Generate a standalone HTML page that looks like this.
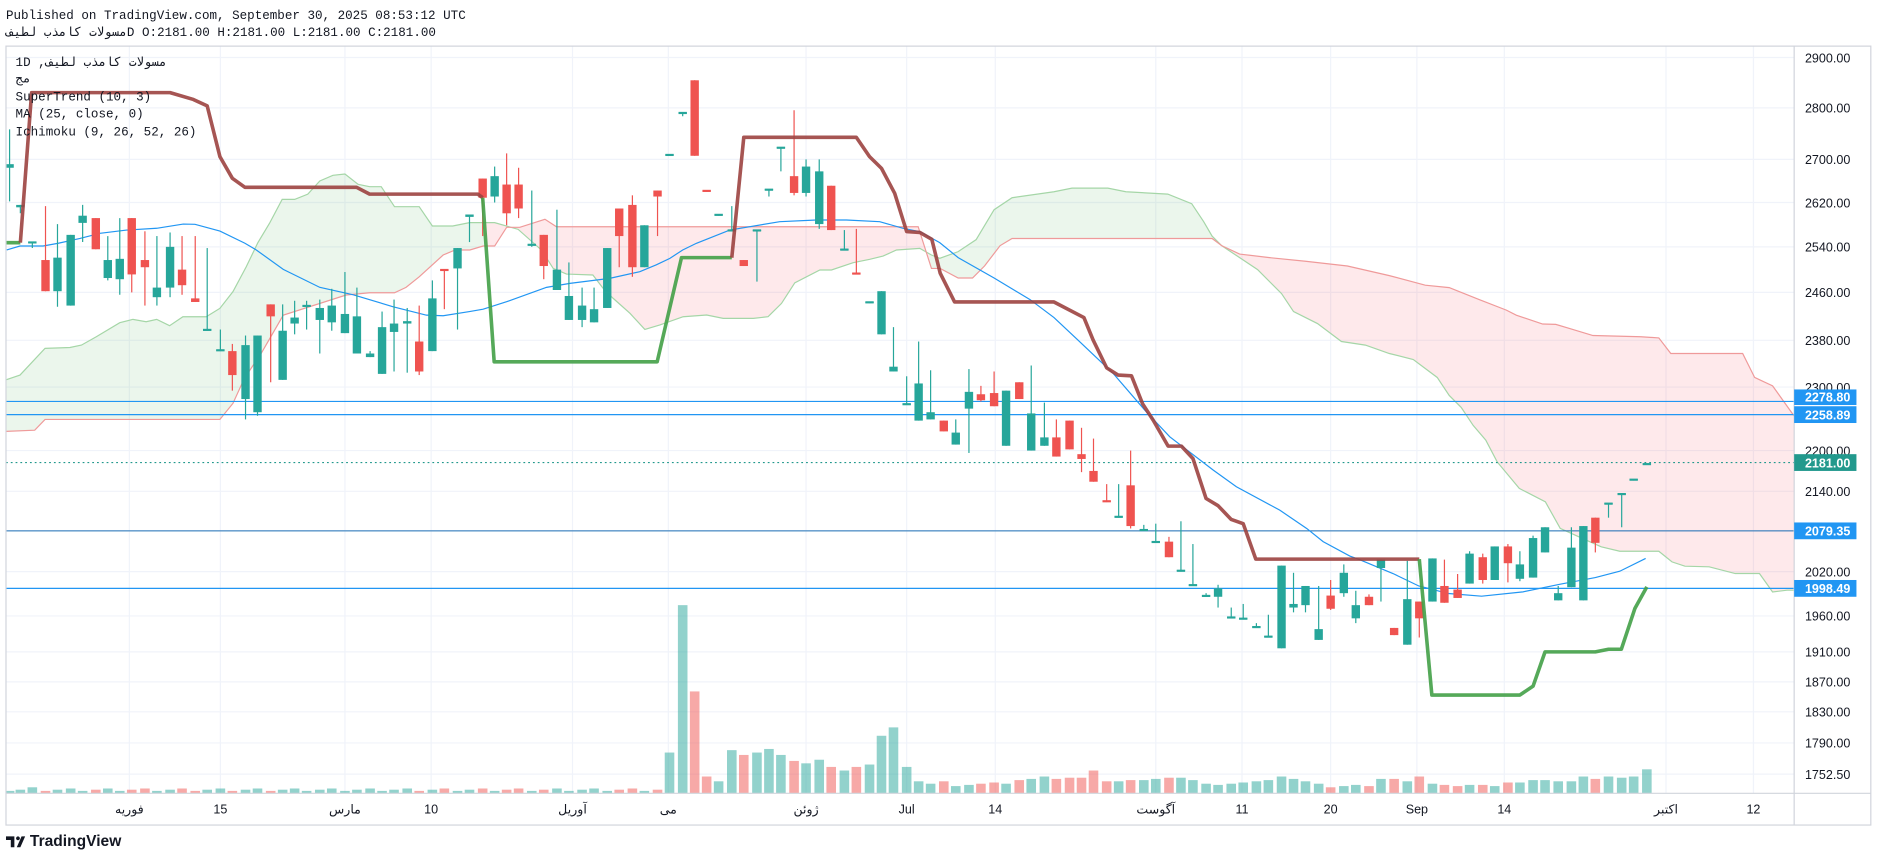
<!DOCTYPE html>
<html><head><meta charset="utf-8">
<style>
html,body{margin:0;padding:0;background:#fff;width:1878px;height:858px;overflow:hidden}
svg{display:block}
.m{font-family:"Liberation Mono","Noto Sans CJK SC",monospace;font-size:10.5px;fill:#131722}
.ax{font-family:"Liberation Sans","Noto Sans CJK SC",sans-serif;font-size:10.5px;fill:#131722}
.lb{font-family:"Liberation Sans",sans-serif;font-size:10.5px;fill:#fff;font-weight:bold}
</style></head><body>
<svg id="s" width="1878" height="858" viewBox="0 0 1568 716" preserveAspectRatio="none" xmlns="http://www.w3.org/2000/svg">
<rect x="0" y="0" width="1568" height="716" fill="#fff"/>
<text class="m" x="5" y="16">Published on TradingView.com, September 30, 2025 08:53:12 UTC</text>
<text class="m" x="5" y="30"><tspan>مسولات کامذب لطیف</tspan>D O:2181.00 H:2181.00 L:2181.00 C:2181.00</text>
<g id="grid" stroke="#f0f3fa" stroke-width="1"></g>
<defs>
<clipPath id="cg"><rect x="0" y="0" width="405" height="700"/><rect x="776" y="0" width="236" height="700"/></clipPath>
<clipPath id="cr"><rect x="405" y="0" width="371" height="700"/><rect x="1012" y="0" width="486" height="700"/></clipPath>
<clipPath id="plot"><rect x="5" y="38" width="1493" height="624"/></clipPath>
</defs>
<g id="main" clip-path="url(#plot)"></g>
<rect x="5" y="38.5" width="1557" height="650" fill="none" stroke="#d1d4dc" stroke-width="1"/>
<line x1="1498" y1="38" x2="1498" y2="688" stroke="#d1d4dc"/>
<line x1="5" y1="662" x2="1562" y2="662" stroke="#d1d4dc"/>
<g id="ticks"></g>
<text class="m" x="13" y="55">1D ,<tspan>مسولات کامذب لطیف</tspan></text>
<text class="m" x="13" y="69">مج</text>
<text class="m" x="13" y="84">SuperTrend (10, 3)</text>
<text class="m" x="13" y="98">MA (25, close, 0)</text>
<text class="m" x="13" y="113">Ichimoku (9, 26, 52, 26)</text>
<g id="tl" class="ax" text-anchor="middle">
<text x="108" y="679">فوریه</text><text x="184" y="679">15</text><text x="288" y="679">مارس</text><text x="360" y="679">10</text>
<text x="478" y="679">آوریل</text><text x="558" y="679">می</text><text x="673" y="679">ژوئن</text><text x="757" y="679">Jul</text>
<text x="831" y="679">14</text><text x="965" y="679">آگوست</text><text x="1037" y="679">11</text><text x="1111" y="679">20</text>
<text x="1183" y="679">Sep</text><text x="1256" y="679">14</text><text x="1391" y="679">اکتبر</text><text x="1464" y="679">12</text>
</g>
<g class="ax">
<text x="1507" y="52">2900.00</text><text x="1507" y="94">2800.00</text><text x="1507" y="137">2700.00</text>
<text x="1507" y="173">2620.00</text><text x="1507" y="210">2540.00</text><text x="1507" y="248">2460.00</text>
<text x="1507" y="288">2380.00</text><text x="1507" y="327">2300.00</text><text x="1507" y="380">2200.00</text>
<text x="1507" y="414">2140.00</text><text x="1507" y="481">2020.00</text><text x="1507" y="518">1960.00</text>
<text x="1507" y="548">1910.00</text><text x="1507" y="573">1870.00</text><text x="1507" y="598">1830.00</text>
<text x="1507" y="624">1790.00</text><text x="1507" y="650">1752.50</text>
</g>
<rect x="1498" y="325" width="52" height="13" fill="#2196f3"/><text class="lb" x="1507" y="335">2278.80</text>
<rect x="1498" y="339" width="52" height="14" fill="#2196f3"/><text class="lb" x="1507" y="350">2258.89</text>
<rect x="1498" y="379" width="52" height="14" fill="#22998d"/><text class="lb" x="1507" y="390">2181.00</text>
<rect x="1498" y="436" width="52" height="14" fill="#2196f3"/><text class="lb" x="1507" y="447">2079.35</text>
<rect x="1498" y="484" width="52" height="14" fill="#2196f3"/><text class="lb" x="1507" y="495">1998.49</text>
<g transform="translate(5,694)">
<path d="M0 4h7v9h-3v-6h-4z M9 13l4-9h3l-4 9z M10 4a1.6 1.6 0 1 0 0.01 0" fill="#131722"/>
<text x="20" y="12" style="font-family:'Liberation Sans',sans-serif;font-size:13px;font-weight:bold;fill:#131722">TradingView</text>
</g>
</svg>
<script>
var NS="http://www.w3.org/2000/svg",M=document.getElementById('main'),G=document.getElementById('grid');
function el(p,t,a){var e=document.createElementNS(NS,t);for(var k in a)e.setAttribute(k,a[k]);p.appendChild(e);return e;}
[48,90,133,169,206,244,284,323,376,410,443,477,514,544,569,594,620,646].forEach(function(y){el(G,'line',{x1:5,x2:1498,y1:y,y2:y});});
[108,184,288,360,478,558,673,757,831,965,1037,1111,1183,1256,1391,1464].forEach(function(x){el(G,'line',{x1:x,x2:x,y1:38,y2:662});});
function pts(a){return a.map(function(p){return p[0]+','+p[1];}).join(' ');}
var A=[[5,317],[16.7,313],[37.6,290.7],[58.4,290],[68,288],[80.4,281],[100,269.3],[111,266.5],[122,268.5],[130.8,266.5],[141.6,271.8],[152.7,264.3],[172.2,264.3],[183.6,257.3],[194.5,243.4],[205.6,222.6],[215.3,202.5],[225,186.4],[235.6,166.4],[246,166.4],[257,162],[267,151],[278,146.3],[288,145.2],[299,153.8],[308.6,155.8],[318.3,155.8],[329.4,172.5],[350,172.5],[361,188.6],[378,188.6],[392,185.8],[413,185.8],[432.6,191.4],[452,208.6],[461.9,224],[473,228.7],[495,229.5],[503.6,240.6],[512,249],[526,261.5],[538.4,274.9],[551,271.2],[570.4,264.3],[590,262.9],[603.8,265.7],[629,265.7],[641.3,264.3],[652.5,253.2],[663.6,236],[684.5,225.3],[694.2,225.3],[712.3,219.2],[726.2,216.4],[737.3,213.7],[748.5,208.6],[768,207.3],[777.7,212.8],[784.6,215.6],[800,210],[815,200],[830,175],[845,165],[880,160],[895,157],[925,157],[940,160],[975,162],[995,170],[1005,185],[1012,197],[1020,205],[1035,215],[1050,225],[1070,245],[1080,260],[1100,270],[1120,285],[1140,288],[1160,295],[1180,300],[1200,315],[1210,330],[1220,340],[1230,355],[1240.5,367.3],[1250,385.4],[1268.5,407.6],[1290.3,418.8],[1302.7,441],[1324.5,450.8],[1336.9,456.3],[1352.4,460],[1385,460],[1396,468.9],[1406.8,472.5],[1427,473],[1448.8,478.6],[1469,478.6],[1480,494],[1492,492.5],[1500,492.5]];
var B=[[5,360],[29,359],[37.6,350],[183.6,350],[194.5,336.6],[204,315.8],[218,295],[236.5,263],[289,246.2],[308.6,244.3],[329.4,244.3],[339,239.8],[350,231],[370,212.8],[380,208.6],[392.3,208.6],[403.4,205.3],[413,205.3],[423,189.7],[434,189.7],[455,183],[464.6,189.2],[766.6,189.2],[777.7,224],[785,224],[800,232],[812,232],[822,222],[835,205],[845,199],[1012,199],[1020,205],[1035,212],[1060,215],[1090,218],[1125,222],[1160,230],[1190,238],[1210,240],[1235,250],[1257.7,258.8],[1266,263],[1288,270.4],[1299,270.7],[1310,274],[1330,280],[1370,281],[1385,282],[1395,295],[1455,295],[1465,315],[1480,322],[1500,350]];
var poly=pts(A)+' '+pts(B.slice().reverse());
el(M,'polygon',{points:poly,fill:'rgba(76,175,80,0.11)','clip-path':'url(#cg)'});
el(M,'polygon',{points:poly,fill:'rgba(242,54,69,0.11)','clip-path':'url(#cr)'});
el(M,'polyline',{points:pts(A),fill:'none',stroke:'#a5d6a7','stroke-width':1});
el(M,'polyline',{points:pts(B),fill:'none',stroke:'#ef9a9a','stroke-width':1});
el(M,'line',{x1:5,x2:1498,y1:335,y2:335,stroke:'#2196f3','stroke-width':1});
el(M,'line',{x1:5,x2:1498,y1:346,y2:346,stroke:'#2196f3','stroke-width':1});
el(M,'line',{x1:5,x2:1498,y1:443,y2:443,stroke:'#1e6fb5','stroke-width':0.8});
el(M,'line',{x1:5,x2:1498,y1:491,y2:491,stroke:'#2196f3','stroke-width':1});
el(M,'line',{x1:5,x2:1498,y1:386,y2:386,stroke:'#22998d','stroke-width':1,'stroke-dasharray':'1.5,2.5'});
var C=[[8,137,140,108,168,'g'],[17,171,173,171,178,'g'],[27,202,203,202,207,'g'],[38,217,243,172,243,'r'],[48,215,243,187,256,'g'],[59,196,255,196,255,'g'],[69,180,186,171,202,'g'],[80,182,208,182,208,'r'],[90,217,232,197,234,'g'],[100,216,233,182,246,'g'],[110,182,229,182,244,'r'],[121,217,223,193,255,'r'],[131,240,248,197,255,'g'],[142,206,240,194,248,'g'],[152,225,238,197,246,'r'],[163,249,252,197,252,'r'],[173,275,276,207,276,'g'],[184,292,293,275,293,'g'],[194,293,313,287,326,'r'],[205,288,333,280,350,'g'],[215,280,344,280,347,'g'],[226,254,264,254,319,'r'],[236,276,317,254,317,'g'],[246,265,270,251,279,'g'],[256,255,256,251,275,'g'],[267,257,267,250,295,'g'],[277,255,269,241,276,'g'],[288,262,278,227,278,'g'],[298,264,295,240,295,'g'],[309,295,298,293,298,'g'],[319,273,312,260,312,'g'],[329,270,277,250,310,'g'],[340,268,270,257,311,'g'],[350,285,310,255,313,'r'],[361,249,293,234,293,'g'],[371,225,226,225,258,'r'],[382,207,224,207,275,'g'],[392,179,181,179,202,'g'],[403,149,165,149,197,'r'],[413,147,164,139,169,'g'],[423,154,178,128,188,'r'],[433,154,174,140,182,'r'],[444,204,205,159,206,'g'],[454,196,222,196,233,'r'],[465,225,242,175,242,'g'],[475,247,267,219,267,'g'],[486,255,267,240,273,'g'],[496,258,269,240,269,'g'],[507,207,257,207,257,'g'],[517,174,197,174,223,'r'],[528,171,223,163,231,'r'],[538,188,223,188,223,'g'],[549,159,164,159,197,'r'],[559,129,130,129,130,'g'],[570,94,95,94,97,'g'],[580,67,130,67,130,'r'],[590,159,160,159,160,'r'],[600,179,180,179,180,'g'],[611,192,193,172,193,'g'],[621,217,222,217,222,'r'],[632,192,193,192,235,'g'],[642,158,159,158,164,'g'],[652,123,124,123,143,'g'],[663,147,161,92,163,'r'],[673,139,161,133,164,'g'],[684,143,187,133,191,'g'],[694,155,192,155,192,'r'],[705,208,209,192,209,'g'],[715,228,229,191,229,'r'],[726,252,253,252,253,'g'],[736,243,279,243,279,'g'],[746,306,310,273,310,'g'],[757,337,338,314,338,'g'],[767,320,351,285,351,'g'],[777,344,350,309,350,'g'],[788,351,360,351,360,'r'],[798,361,371,350,371,'g'],[809,327,341,308,378,'g'],[819,329,334,322,335,'r'],[830,328,339,310,339,'r'],[840,326,372,326,372,'g'],[851,319,333,319,333,'r'],[861,345,376,305,376,'g'],[872,365,372,336,372,'g'],[882,365,381,350,381,'r'],[893,351,375,351,375,'r'],[903,379,383,357,394,'r'],[913,393,402,366,402,'r'],[924,418,419,404,419,'r'],[934,431,432,404,432,'g'],[944,405,439,376,441,'r'],[955,442,443,438,443,'g'],[965,452,453,437,453,'g'],[976,452,465,448,465,'r'],[986,476,477,435,477,'g'],[996,488,489,454,489,'g'],[1007,497,498,495,498,'g'],[1017,491,498,488,507,'g'],[1028,515,516,507,516,'g'],[1038,516,517,504,517,'g'],[1049,523,524,520,524,'g'],[1059,531,532,513,532,'g'],[1070,472,541,472,541,'g'],[1080,504,507,478,511,'g'],[1090,489,505,489,511,'g'],[1101,525,534,489,534,'g'],[1111,497,508,484,509,'r'],[1122,478,495,471,498,'g'],[1132,505,516,493,520,'g'],[1143,498,505,496,505,'r'],[1153,467,474,467,502,'g'],[1164,524,530,524,530,'r'],[1175,500,538,468,538,'g'],[1185,502,516,502,532,'r'],[1196,466,502,466,502,'g'],[1206,489,503,467,503,'r'],[1217,492,499,479,499,'r'],[1227,462,487,460,487,'g'],[1238,465,484,462,487,'r'],[1248,456,484,456,484,'g'],[1259,456,470,454,486,'r'],[1269,471,483,460,485,'g'],[1280,449,482,447,482,'g'],[1290,440,461,440,461,'g'],[1301,495,501,489,501,'g'],[1312,457,490,440,490,'g'],[1322,439,501,439,501,'g'],[1332,432,453,432,461,'r'],[1343,420,421,420,432,'g'],[1354,412,413,412,440,'g'],[1364,400,401,400,401,'g'],[1375,387,388,387,388,'g']];
var V={27:5,559:34,570:157,580:85,590:14,600:10,611:36,621:32,632:34,642:37,652:32,663:27,673:25,684:28,694:22,705:19,715:22,726:24,736:48,746:55,757:22,767:10,788:10,840:8,851:11,861:12,872:14,882:12,893:13,903:13,913:19,924:10,934:10,944:11,955:11,965:12,976:13,986:13,996:11,1007:8,1017:7,1028:8,1038:9,1049:10,1059:11,1070:14,1080:12,1090:10,1101:8,1111:5,1122:6,1132:7,1143:6,1153:12,1164:12,1175:10,1185:14,1196:8,1206:7,1217:6,1227:7,1238:7,1248:6,1259:9,1269:9,1280:11,1290:11,1301:10,1312:10,1322:14,1332:12,1343:14,1354:13,1364:14,1375:20};
C.forEach(function(c,i){var h=V[c[0]];if(h===undefined)h=c[0]<550?(2+(i%3)):(6+(i%4));
el(M,'rect',{x:c[0]-4,y:662-h,width:8,height:h,fill:c[5]=='g'?'rgba(38,166,154,0.5)':'rgba(239,83,80,0.5)'});});
var MA=[[5.6,208.6],[16.7,205.3],[36,205.3],[48.7,203],[66.8,199],[83.5,194.7],[105.7,192],[130.8,190.5],[153,187],[162.8,187.2],[183.6,192.8],[204.5,203],[214,208.6],[236.5,224.8],[267,239.8],[295,246],[328.3,256],[356,263],[370,263.5],[392,260],[403.4,258],[423,251.8],[456.3,239.8],[475.8,236.5],[509,232.3],[534.2,226.7],[548,221],[559.3,215.6],[570,208.6],[581.5,203],[609.3,192],[651,185],[681.7,183.6],[706.7,183.6],[734.5,185],[754,190.5],[768,193.3],[784.6,202.5],[800,215],[830,232],[860,250],[880,265],[900,283.8],[929.4,311.6],[957,343.6],[976.7,364.5],[1013,392.3],[1032.3,406.2],[1068.5,425.7],[1091,441],[1104.7,452],[1127,464],[1135,467],[1163,478.6],[1184.6,489],[1209.4,495.3],[1237,497.5],[1271.6,493.9],[1302.7,487.5],[1332,482],[1352.4,476.7],[1374,466]];
el(M,'polyline',{points:pts(MA),fill:'none',stroke:'#2196f3','stroke-width':1});
C.forEach(function(c){var col=c[5]=='g'?'#26a69a':'#ef5350';
el(M,'line',{x1:c[0],x2:c[0],y1:c[3],y2:c[4],stroke:col,'stroke-width':1});
var h=Math.max(1.2,c[2]-c[1]);el(M,'rect',{x:c[0]-3.5,y:c[1],width:7,height:h,fill:col});
if(c[2]-c[1]<2)el(M,'line',{x1:c[0]-3.5,x2:c[0]+3.5,y1:c[1],y2:c[1],stroke:col,'stroke-width':1.2});});
function st(p,col){el(M,'polyline',{points:pts(p),fill:'none',stroke:col,'stroke-width':3,'stroke-linejoin':'round',opacity:0.9});}
st([[5,202.5],[17,202.5]],'#43a047');
st([[17,202.5],[26.4,77.3],[142,77.3],[161.4,83],[173,88.4],[183.6,130.7],[194,148.8],[204.5,156.3],[297.7,156.3],[308.6,162],[399,162],[403,165]],'#9c4340');
st([[403,165],[412.6,301.9],[548.7,301.9],[569,215],[611,215]],'#43a047');
st([[611,215],[621,114.6],[715,114.6],[726,130.7],[736,140.5],[747,161.3],[757,193.3],[768,194],[778,199.7],[785,228],[797,252],[880,252],[905,265],[912.7,283.8],[924,307],[933.5,313],[944.7,313.6],[954,337],[962.8,350.6],[975.3,372.3],[986.4,372.3],[996,382.6],[1007,416],[1017,422],[1028,433.5],[1038,437],[1048.5,466.6],[1185,466.6]],'#9c4340');
st([[1185,466.6],[1195.5,580],[1269,580],[1280,572.6],[1290,544],[1332,544],[1343,541.8],[1353.7,541.8],[1365,507.8],[1375,489.7]],'#43a047');
</script>
</body></html>
